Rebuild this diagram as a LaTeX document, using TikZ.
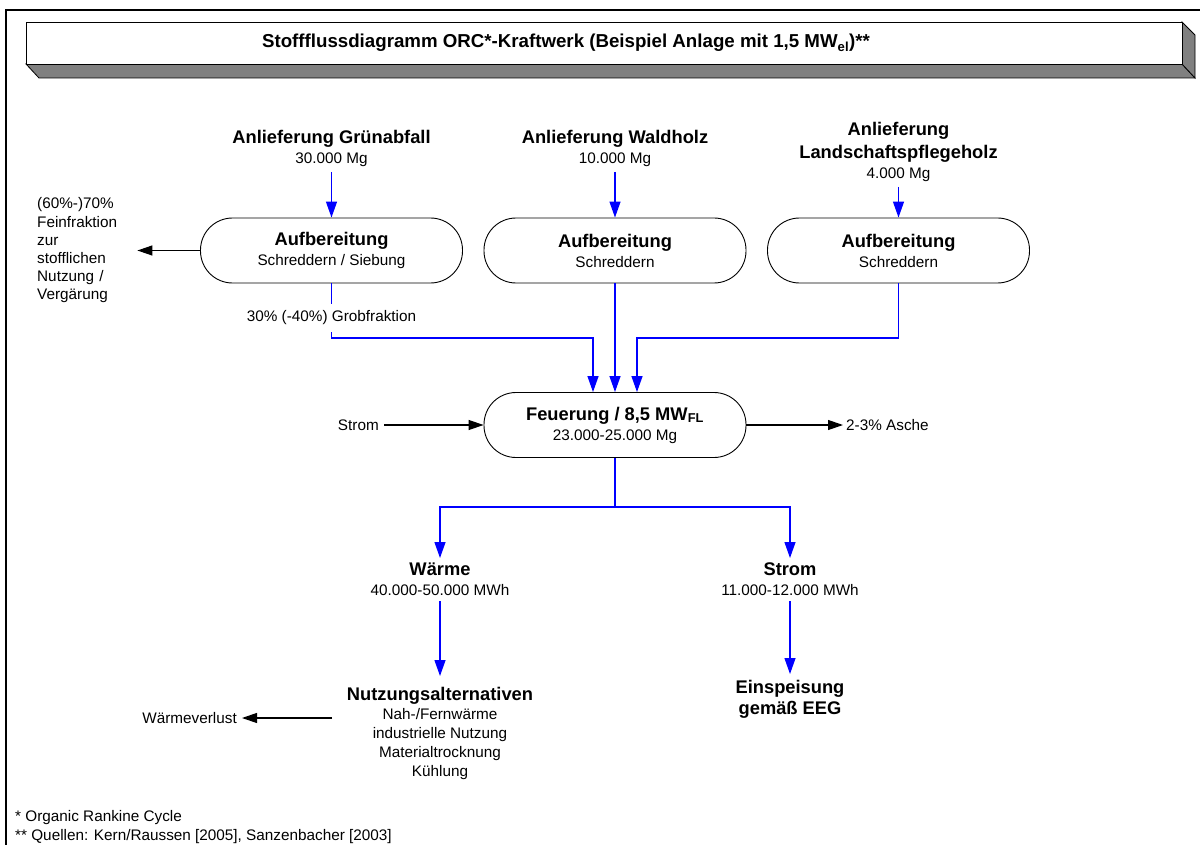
\documentclass[tikz,border=0pt]{standalone}
\usepackage{fontspec}
\setmainfont{Liberation Sans}
\usetikzlibrary{arrows.meta}

\newcommand{\hd}[1]{{\fontsize{18.3}{20}\selectfont\bfseries #1}}

\begin{document}
\begin{tikzpicture}[x=1pt,y=1pt,
    stufe/.style={draw, line width=0.9pt, rounded corners=32pt, minimum width=262pt, minimum height=65pt, align=center, font=\fontsize{15.3}{20}\selectfont},
    txt/.style={align=center, inner sep=5pt, font=\fontsize{15.3}{20}\selectfont},
    fluss/.style={blue, line width=1.3pt, ->, >={Triangle[length=16pt,width=11pt]}},
    pfeil/.style={black, line width=1.2pt, ->, >={Triangle[length=15pt,width=10pt]}},
    balken/.style={draw=black, line width=0.8pt, fill=gray}]

  % Rahmen und Titelbalken
  \useasboundingbox (0,0) rectangle (1200,-845);
  \draw[line width=2.3pt] (6,-845) -- (6,-10) -- (1200,-10);
  \draw[balken] (26,-64) -- (1182,-64) -- (1195,-78) -- (39,-78) -- cycle;
  \draw[balken] (1182,-22) -- (1195,-35) -- (1195,-78) -- (1182,-64) -- cycle;
  \draw[line width=0.8pt, fill=white] (26,-22) rectangle (1182,-64);
  \node (titel) at (566,-43) {\fontsize{18.7}{22}\selectfont\bfseries Stoffflussdiagramm ORC*-Kraftwerk (Beispiel Anlage mit 1,5 MW\textsubscript{el})**};

  % Anlieferung
  \node[txt, anchor=north] (anlGruen) at (331.5,-125) {\hd{Anlieferung Grünabfall}\\30.000 Mg};
  \node[txt, anchor=north] (anlWald) at (615,-125) {\hd{Anlieferung Waldholz}\\10.000 Mg};
  \node[txt, anchor=north] (anlLand) at (898.5,-117) {\hd{Anlieferung}\\[3pt]\hd{Landschaftspflegeholz}\\4.000 Mg};

  % Aufbereitung und Feuerung
  \node[stufe] (aufGruen) at (331.5,-250.5) {\hd{Aufbereitung}\\Schreddern / Siebung};
  \node[stufe] (aufWald) at (615,-250.5) {\hd{Aufbereitung}\\Schreddern};
  \node[stufe] (aufLand) at (898.5,-250.5) {\hd{Aufbereitung}\\Schreddern};
  \node[stufe] (feuer) at (615,-425) {\hd{Feuerung / 8,5 MW\textsubscript{FL}}\\23.000-25.000 Mg};

  \node[txt, anchor=west, text width=95pt, align=left, font=\fontsize{15.3}{18.2}\selectfont] (fein) at (32,-250.5) {(60\%-)70\%\\Feinfraktion\\zur\\stofflichen\\Nutzung /\\Vergärung};
  \node[txt, anchor=east] (stromZu) at (384,-425) {Strom};
  \node[txt, anchor=west, inner sep=3pt] (asche) at (843,-425) {2-3\% Asche};

  % Produkte
  \node[txt, anchor=north] (waerme) at (440,-558) {\hd{Wärme}\\40.000-50.000 MWh};
  \node[txt, anchor=north] (stromAb) at (790,-558) {\hd{Strom}\\11.000-12.000 MWh};
  \node[txt, anchor=north, inner ysep=11pt, font=\fontsize{15.3}{19}\selectfont] (nutzung) at (440,-676) {\hd{Nutzungsalternativen}\\Nah-/Fernwärme\\industrielle Nutzung\\Materialtrocknung\\Kühlung};
  \node[txt, anchor=north, inner ysep=6pt, font=\fontsize{18.3}{21}\selectfont\bfseries] (einspeis) at (790,-674) {Einspeisung\\gemäß EEG};
  \node[txt, anchor=east] (verlust) at (242,-718) {Wärmeverlust};

  % Fussnoten
  \node[anchor=west, inner sep=0pt, font=\fontsize{15.3}{18}\selectfont] (fussnote1) at (15,-818) {* Organic Rankine Cycle};
  \node[anchor=west, inner sep=0pt, font=\fontsize{15.3}{18}\selectfont] (fussnote2) at (15,-837) {** Quellen: Kern/Raussen [2005], Sanzenbacher [2003]};

  \coordinate (sammel) at (0,-338);
  \coordinate (verteil) at (0,-507);
  \coordinate (inL) at ([xshift=-22pt]feuer.north);
  \coordinate (inR) at ([xshift=22pt]feuer.north);
  \coordinate (verlAb) at (332,-718);

  % Stofffluss
  \draw[fluss] (anlGruen) -- (aufGruen);
  \draw[fluss] (anlWald) -- (aufWald);
  \draw[fluss] (anlLand) -- (aufLand);
  \draw[fluss] (aufGruen.south) |- (inL |- sammel) -- (inL);
  \draw[fluss] (aufWald) -- (feuer);
  \draw[fluss] (aufLand.south) |- (inR |- sammel) -- (inR);
  \node[txt, fill=white, inner sep=7pt] (grob) at (331.5,-318) {30\% (-40\%) Grobfraktion};
  \draw[pfeil] (aufGruen) -- (fein);
  \draw[pfeil] (stromZu) -- (feuer);
  \draw[pfeil] (feuer) -- (asche);
  \draw[fluss] (feuer.south) -- (feuer.south |- verteil) -| (waerme.north);
  \draw[fluss] (feuer.south |- verteil) -| (stromAb.north);
  \draw[fluss] (waerme) -- (nutzung);
  \draw[fluss] (stromAb) -- (einspeis);
  \draw[pfeil] (verlAb) -- (verlust);
\end{tikzpicture}
\end{document}
